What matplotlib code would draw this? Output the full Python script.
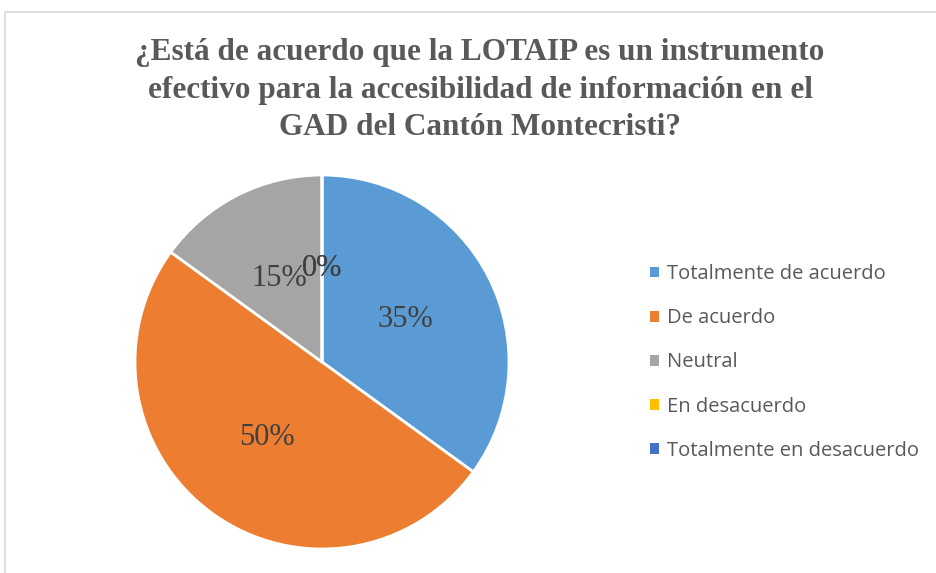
import matplotlib
matplotlib.use('Agg')
import matplotlib.pyplot as plt
from matplotlib.patches import Rectangle

categories = ['Totalmente de acuerdo', 'De acuerdo', 'Neutral',
              'En desacuerdo', 'Totalmente en desacuerdo']
values = [35, 50, 15, 0, 0]
colors = ['#5B9BD5', '#ED7D31', '#A5A5A5', '#FFC000', '#4472C4']
title = ('¿Está de acuerdo que la LOTAIP es un instrumento\n'
         'efectivo para la accesibilidad de información en el\n'
         'GAD del Cantón Montecristi?')

W, H = 936, 573
fig = plt.figure(figsize=(W / 100, H / 100), dpi=100)
fig.patch.set_facecolor('white')

# chart frame (light grey, runs off the right and bottom edges)
fig.add_artist(Rectangle((5 / W, -0.1), 1.1, 1 - 12 / H + 0.1,
                         transform=fig.transFigure, fill=False,
                         edgecolor='#D9D9D9', linewidth=1.2))

fig.text(480 / W, 1 - 90 / H, title, ha='center', va='center',
         fontsize=22.5, fontweight='bold', family='Liberation Serif',
         color='#595959', linespacing=1.4)

# pie centred at (322, 362) px with radius 187 px
cx, cy, r = 322, 362, 187
ax = fig.add_axes([(cx - r) / W, (H - cy - r) / H, 2 * r / W, 2 * r / H])
wedges, texts, autotexts = ax.pie(
    values, colors=colors, startangle=90, counterclock=False,
    autopct='%.0f%%', pctdistance=0.5, radius=1,
    wedgeprops=dict(edgecolor='white', linewidth=2),
    textprops=dict(family='Liberation Serif', fontsize=22, color='#404040'))
ax.set_xlim(-1, 1)
ax.set_ylim(-1, 1)
ax.set_aspect('equal')
ax.axis('off')

leg = fig.legend(wedges, categories, loc='upper left',
                 bbox_to_anchor=(632 / W, 1 - 246 / H),
                 frameon=False, handlelength=0.45, handleheight=0.45,
                 handletextpad=0.4, labelspacing=1.2,
                 prop=dict(family='Open Sans', size=14.5))
for t in leg.get_texts():
    t.set_color('#595959')
for h in leg.legend_handles:
    h.set_edgecolor('none')

fig.savefig('out.png', dpi=100, facecolor='white')
